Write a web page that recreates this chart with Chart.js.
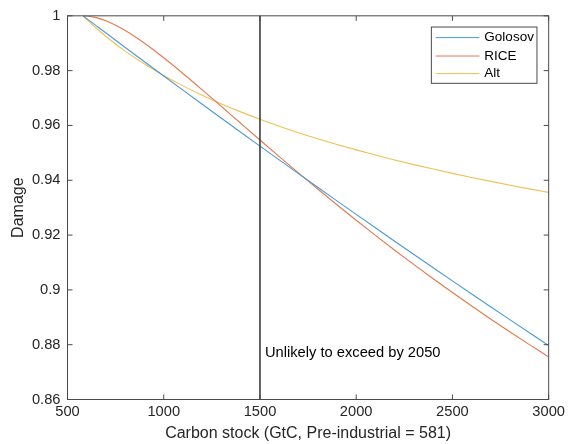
<!DOCTYPE html>
<html lang="en">
<head>
<meta charset="UTF-8">
<title>Damage vs carbon stock</title>
<script src="https://cdn.jsdelivr.net/npm/chart.js"></script>
<style>
  body { margin: 0; background: #ffffff; }
  .wrap { position: relative; width: 569px; height: 444px; }
</style>
</head>
<body>
<div class="wrap"><canvas id="damageChart"></canvas></div>
<script>
// Carbon stock sample points (GtC)
const carbonStock = [581, 600, 650, 700, 800, 900, 1000, 1100, 1200, 1300, 1400, 1500, 1600, 1700,
  1800, 1900, 2000, 2100, 2200, 2300, 2400, 2500, 2600, 2700, 2800, 2900, 3000];

// Damage factor for each carbon stock level
const golosov = [1, 0.99899, 0.99635, 0.99371, 0.98846, 0.98323, 0.97804, 0.97287, 0.96772, 0.96261,
  0.95752, 0.95246, 0.94743, 0.94242, 0.93744, 0.93248, 0.92755, 0.92265, 0.91777, 0.91292,
  0.90809, 0.90329, 0.89852, 0.89377, 0.88904, 0.88434, 0.87967];
const rice = [1, 0.99995, 0.99934, 0.99817, 0.99463, 0.98999, 0.98469, 0.97896, 0.97300, 0.96692,
  0.96080, 0.95470, 0.94865, 0.94268, 0.93681, 0.93105, 0.92541, 0.91988, 0.91448, 0.90920,
  0.90405, 0.89902, 0.89410, 0.88929, 0.88460, 0.88001, 0.87554];
const alt = [1, 0.99870, 0.99546, 0.99247, 0.98711, 0.98240, 0.97821, 0.97444, 0.97100, 0.96785,
  0.96495, 0.96225, 0.95973, 0.95737, 0.95516, 0.95307, 0.95109, 0.94921, 0.94742, 0.94571,
  0.94408, 0.94251, 0.94102, 0.93958, 0.93819, 0.93686, 0.93557];

const seriesNames = ['Golosov', 'RICE', 'Alt'];
const xTicks = [500, 1000, 1500, 2000, 2500, 3000];
const yTicks = [0.86, 0.88, 0.9, 0.92, 0.94, 0.96, 0.98, 1];

// 2050 threshold marker
const markerStock = 1500;
const markerLevel = 0.877;
const markerText = 'Unlikely to exceed by 2050';

const FONT = '"Liberation Sans", Arial, Helvetica, sans-serif';
const AXIS_COLOR = '#262626';
const FRAME_COLOR = '#4a4a4a';
const colors = ['#4a9ad8', '#e5784e', '#f0c152'];

function toPoints(values) {
  return carbonStock.map((s, i) => ({ x: s, y: values[i] }));
}

function strokeLine(ctx, x1, y1, x2, y2) {
  ctx.beginPath();
  ctx.moveTo(x1, y1);
  ctx.lineTo(x2, y2);
  ctx.stroke();
}

// box, inward ticks, threshold line, note and legend
const axesDecor = {
  id: 'axesDecor',
  afterDatasetsDraw(chart) {
    const { ctx, chartArea: a, scales: { x, y } } = chart;
    ctx.save();

    const mx = x.getPixelForValue(markerStock);
    ctx.strokeStyle = '#303030';
    ctx.lineWidth = 1.5;
    strokeLine(ctx, mx, a.top, mx, a.bottom);

    ctx.fillStyle = '#000000';
    ctx.font = '14.7px ' + FONT;
    ctx.textAlign = 'left';
    ctx.textBaseline = 'middle';
    ctx.fillText(markerText, mx + 5, y.getPixelForValue(markerLevel));

    ctx.lineWidth = 1;
    ctx.strokeStyle = FRAME_COLOR;
    ctx.strokeRect(a.left, a.top, a.width, a.height);
    const tick = 5;
    xTicks.forEach(v => {
      const px = x.getPixelForValue(v);
      strokeLine(ctx, px, a.bottom, px, a.bottom - tick);
      strokeLine(ctx, px, a.top, px, a.top + tick);
    });
    yTicks.forEach(v => {
      const py = y.getPixelForValue(v);
      strokeLine(ctx, a.left, py, a.left + tick, py);
      strokeLine(ctx, a.right, py, a.right - tick, py);
    });

    // legend box, top right
    const bw = 105.6, bh = 56.3;
    const bx = a.right - 11.7 - bw;
    const by = a.top + 11.2;
    ctx.fillStyle = '#ffffff';
    ctx.fillRect(bx, by, bw, bh);
    ctx.strokeStyle = FRAME_COLOR;
    ctx.strokeRect(bx, by, bw, bh);
    const rows = [10.6, 29, 46.6];
    ctx.font = '13.5px ' + FONT;
    chart.data.datasets.forEach((ds, i) => {
      const ry = by + rows[i];
      ctx.strokeStyle = ds.borderColor;
      ctx.lineWidth = 1;
      strokeLine(ctx, bx + 4.3, ry, bx + 48, ry);
      ctx.fillStyle = '#000000';
      ctx.fillText(ds.label, bx + 53, ry);
    });

    ctx.restore();
  }
};

new Chart(document.getElementById('damageChart'), {
  type: 'line',
  data: {
    datasets: [golosov, rice, alt].map((vals, i) => ({
      label: seriesNames[i],
      data: toPoints(vals),
      borderColor: colors[i],
      borderWidth: 1.1,
      pointRadius: 0,
      cubicInterpolationMode: 'monotone',
      fill: false
    }))
  },
  options: {
    responsive: true,
    maintainAspectRatio: false,
    animation: false,
    layout: { padding: { top: 14.5, right: 19, left: 0, bottom: 0 } },
    plugins: {
      legend: { display: false },
      tooltip: { enabled: false }
    },
    scales: {
      x: {
        type: 'linear',
        min: 500,
        max: 3000,
        afterBuildTicks: s => { s.ticks = xTicks.map(v => ({ value: v })); },
        afterFit: s => { s.height = 44.5; },
        grid: { display: false, drawTicks: false, tickLength: 0 },
        border: { display: false },
        ticks: {
          color: AXIS_COLOR,
          font: { family: FONT, size: 14.7 },
          padding: 4,
          maxRotation: 0,
          callback: v => String(v)
        },
        title: {
          display: true,
          text: 'Carbon stock (GtC, Pre-industrial = 581)',
          color: AXIS_COLOR,
          font: { family: FONT, size: 16 },
          padding: { top: 0, bottom: 1 }
        }
      },
      y: {
        min: 0.86,
        max: 1,
        afterBuildTicks: s => { s.ticks = yTicks.map(v => ({ value: v })); },
        afterFit: s => { s.width = 67.5; },
        grid: { display: false, drawTicks: false, tickLength: 0 },
        border: { display: false },
        ticks: {
          color: AXIS_COLOR,
          font: { family: FONT, size: 14.7 },
          padding: 7,
          callback: v => String(parseFloat(Number(v).toFixed(2)))
        },
        title: {
          display: true,
          text: 'Damage',
          color: AXIS_COLOR,
          font: { family: FONT, size: 16 },
          padding: { top: 8.5, bottom: 0 }
        }
      }
    }
  },
  plugins: [axesDecor]
});
</script>
</body>
</html>
